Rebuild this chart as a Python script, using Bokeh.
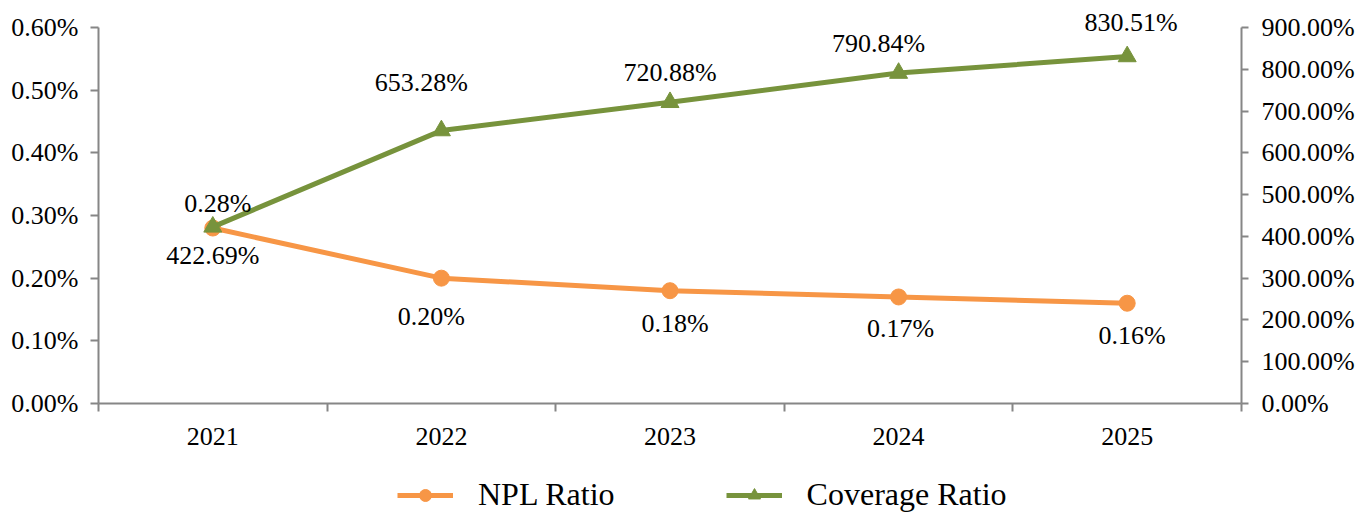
from bokeh.plotting import figure
from bokeh.layouts import column
from bokeh.models import (Range1d, LinearAxis, FixedTicker, PrintfTickFormatter,
                          Legend, LegendItem, ColumnDataSource, LabelSet)
from bokeh.embed import file_html
from bokeh.resources import INLINE

# ---- data ----
years = ["2021", "2022", "2023", "2024", "2025"]
npl_ratio = [0.28, 0.20, 0.18, 0.17, 0.16]            # %
coverage_ratio = [422.69, 653.28, 720.88, 790.84, 830.51]  # %
left_ticks = [0.0, 0.1, 0.2, 0.3, 0.4, 0.5, 0.6]
right_ticks = [0, 100, 200, 300, 400, 500, 600, 700, 800, 900]
series_names = ["NPL Ratio", "Coverage Ratio"]

# ---- label placement (style, screen px; positive dy = up) ----
npl_dx = [5, -10, 5, 2, 5]
npl_dy = [25, -38, -33, -32, -32]
cov_dx = [0, -20, 0, -20, 4]
cov_dy = [-29, 48, 30, 30, 34]

ORANGE = "#F79646"
GREEN = "#77933C"
AXIS = "#868686"
FONT = "Liberation Serif"

# axis area: 376 px tall for the value span, plus 27 px headroom above it
HEAD = 27 / 376.0

xs = [i + 0.5 for i in range(len(years))]

src = ColumnDataSource(dict(
    x=xs, npl=npl_ratio, cov=coverage_ratio,
    npl_txt=[f"{v:.2f}%" for v in npl_ratio],
    cov_txt=[f"{v:.2f}%" for v in coverage_ratio],
    npl_dx=npl_dx, npl_dy=npl_dy, cov_dx=cov_dx, cov_dy=cov_dy,
))

lmax, rmax = left_ticks[-1], right_ticks[-1]
p = figure(width=1358, height=455, output_backend="svg", toolbar_location=None,
           x_range=Range1d(0, len(years)),
           y_range=Range1d(left_ticks[0], lmax + lmax * HEAD),
           min_border_left=98, min_border_right=117, min_border_top=0, min_border_bottom=52)
p.extra_y_ranges = {"cov": Range1d(right_ticks[0], rmax + rmax * HEAD)}
p.outline_line_color = None
p.xgrid.visible = False
p.ygrid.visible = False
p.background_fill_color = "white"
p.border_fill_color = "white"

def style_axis(ax):
    ax.axis_line_color = AXIS
    ax.axis_line_width = 2
    ax.major_tick_line_color = AXIS
    ax.major_tick_line_width = 2
    ax.minor_tick_line_color = AXIS
    ax.minor_tick_line_width = 2
    ax.major_label_text_font = FONT
    ax.major_label_text_font_size = "26px"
    ax.major_label_text_color = "black"

# x axis
xa = p.xaxis[0]
style_axis(xa)
xa.ticker = FixedTicker(ticks=xs, minor_ticks=list(range(len(years) + 1)))
xa.major_label_overrides = {x: y for x, y in zip(xs, years)}
xa.major_tick_out = 0
xa.major_tick_in = 0
xa.minor_tick_out = 8
xa.minor_tick_in = 0
xa.major_label_standoff = 16

# left axis
ya = p.yaxis[0]
style_axis(ya)
ya.ticker = FixedTicker(ticks=left_ticks)
ya.formatter = PrintfTickFormatter(format="%.2f%%")
ya.bounds = (left_ticks[0], lmax)
ya.major_tick_out = 8
ya.major_tick_in = 0
ya.minor_tick_out = 0
ya.minor_tick_in = 0
ya.major_label_standoff = 12

# right axis
ra = LinearAxis(y_range_name="cov")
style_axis(ra)
ra.ticker = FixedTicker(ticks=right_ticks)
ra.formatter = PrintfTickFormatter(format="%.2f%%")
ra.bounds = (right_ticks[0], rmax)
ra.major_tick_out = 7
ra.major_tick_in = 0
ra.minor_tick_out = 0
ra.minor_tick_in = 0
ra.major_label_standoff = 13
p.add_layout(ra, "right")

# series
p.line("x", "npl", source=src, line_color=ORANGE, line_width=5)
p.scatter("x", "npl", source=src, marker="circle", size=16,
          fill_color=ORANGE, line_color=ORANGE)
p.line("x", "cov", source=src, line_color=GREEN, line_width=5, y_range_name="cov")
p.scatter("x", "cov", source=src, marker="triangle", size=18,
          fill_color=GREEN, line_color=GREEN, y_range_name="cov")

# data labels
p.add_layout(LabelSet(x="x", y="npl", text="npl_txt", source=src,
                      x_offset="npl_dx", y_offset="npl_dy",
                      text_font=FONT, text_font_size="26px", text_color="black",
                      text_align="center", text_baseline="middle"))
p.add_layout(LabelSet(x="x", y="cov", text="cov_txt", source=src,
                      x_offset="cov_dx", y_offset="cov_dy", y_range_name="cov",
                      text_font=FONT, text_font_size="26px", text_color="black",
                      text_align="center", text_baseline="middle"))

# ---- legend strip (separate figure below the chart; its frame aligns with the chart's) ----
lf = figure(width=1358, height=60, output_backend="svg", toolbar_location=None,
            x_range=Range1d(0, 1), y_range=Range1d(0, 1),
            x_axis_type=None, y_axis_type=None,
            min_border_left=0, min_border_right=0, min_border_top=0, min_border_bottom=0)
lf.outline_line_color = None
lf.xgrid.visible = False
lf.ygrid.visible = False
lf.background_fill_color = "white"
lf.border_fill_color = "white"
nan = float("nan")
ll1 = lf.line(x=[nan], y=[nan], line_color=ORANGE, line_width=5)
lm1 = lf.scatter(x=[nan], y=[nan], marker="circle", size=16, fill_color=ORANGE, line_color=ORANGE)
ll2 = lf.line(x=[nan], y=[nan], line_color=GREEN, line_width=5)
lm2 = lf.scatter(x=[nan], y=[nan], marker="triangle", size=18, fill_color=GREEN, line_color=GREEN)

legend = Legend(items=[LegendItem(label=series_names[0], renderers=[ll1, lm1]),
                       LegendItem(label=series_names[1], renderers=[ll2, lm2])],
                orientation="horizontal", location=(299, 2),
                glyph_width=56, glyph_height=30, label_standoff=25, spacing=111,
                padding=0, margin=0, border_line_color=None, background_fill_alpha=0,
                label_text_font=FONT, label_text_font_size="32px", label_text_color="black")
lf.add_layout(legend, "center")

layout = column(p, lf, spacing=0)
open("out.html", "w").write(file_html(layout, INLINE))
